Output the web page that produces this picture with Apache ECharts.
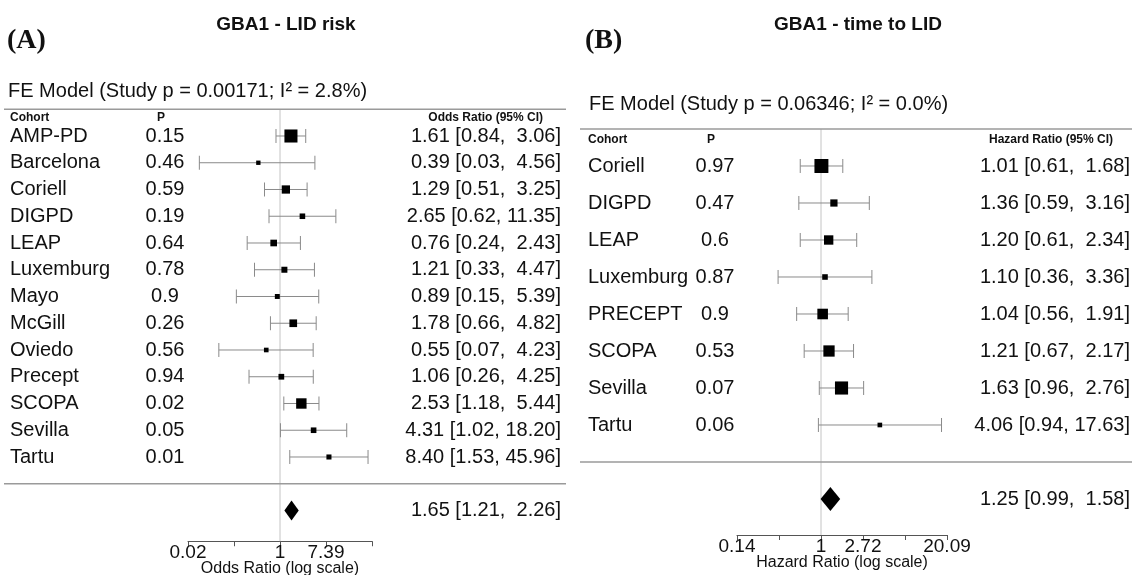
<!DOCTYPE html>
<html><head><meta charset="utf-8">
<script src="https://cdn.jsdelivr.net/npm/echarts@6/dist/echarts.min.js"></script>
<style>html,body{margin:0;padding:0;background:#fff}#c{width:1132px;height:575px}</style>
</head><body><div id="c"></div>
<script>
// ---------- Panel A data ----------
const titleA = 'GBA1 - LID risk';
const tagA = '(A)';
const modelA = 'FE Model (Study p = 0.00171; I² = 2.8%)';
const headersA = ['Cohort', 'P', 'Odds Ratio (95% CI)'];
const cohortsA = ['AMP-PD','Barcelona','Coriell','DIGPD','LEAP','Luxemburg','Mayo','McGill','Oviedo','Precept','SCOPA','Sevilla','Tartu'];
const pA = [0.15,0.46,0.59,0.19,0.64,0.78,0.9,0.26,0.56,0.94,0.02,0.05,0.01];
const orA = [1.61,0.39,1.29,2.65,0.76,1.21,0.89,1.78,0.55,1.06,2.53,4.31,8.40];
const loA = [0.84,0.03,0.51,0.62,0.24,0.33,0.15,0.66,0.07,0.26,1.18,1.02,1.53];
const hiA = [3.06,4.56,3.25,11.35,2.43,4.47,5.39,4.82,4.23,4.25,5.44,18.20,45.96];
const weightA = [23.6,1.6,11.5,4.7,7.4,5.8,3.1,10.0,2.3,5.1,16.9,4.8,3.4];
const summaryA = [1.65,1.21,2.26];
const tickLabelsA = ['0.02','','1','7.39',''];
const axisTitleA = 'Odds Ratio (log scale)';

// ---------- Panel B data ----------
const titleB = 'GBA1 - time to LID';
const tagB = '(B)';
const modelB = 'FE Model (Study p = 0.06346; I² = 0.0%)';
const headersB = ['Cohort', 'P', 'Hazard Ratio (95% CI)'];
const cohortsB = ['Coriell','DIGPD','LEAP','Luxemburg','PRECEPT','SCOPA','Sevilla','Tartu'];
const pB = [0.97,0.47,0.6,0.87,0.9,0.53,0.07,0.06];
const hrB = [1.01,1.36,1.20,1.10,1.04,1.21,1.63,4.06];
const loB = [0.61,0.59,0.61,0.36,0.56,0.67,0.96,0.94];
const hiB = [1.68,3.16,2.34,3.36,1.91,2.17,2.76,17.63];
const weightB = [21.7,7.9,12.3,4.5,14.8,16.2,20.0,2.6];
const summaryB = [1.25,0.99,1.58];
const tickLabelsB = ['0.14','','1','2.72','','20.09'];
const axisTitleB = 'Hazard Ratio (log scale)';

// ---------- layout ----------
const FONT = '"Liberation Sans", Arial, sans-serif';
const panels = [
  {title:titleA, tag:tagA, model:modelA, headers:headersA, cohorts:cohortsA, p:pA, est:orA, lo:loA, hi:hiA, w:weightA, sum:summaryA, ticks:tickLabelsA, axisTitle:axisTitleA,
   grid:{left:188, width:184, top:109.25, height:432}, xMin:-4, xMax:4, xInt:2, yMin:-2.15, yMax:14,
   nameX:10, pX:165, valX:561, hdrValX:543, lineX:[4,566], modelX:8, sq:8.7, dia:10, cap:14, titleX:286, tagX:7, nameGap:19},
  {title:titleB, tag:tagB, model:modelB, headers:headersB, cohorts:cohortsB, p:pB, est:hrB, lo:loB, hi:hiB, w:weightB, sum:summaryB, ticks:tickLabelsB, axisTitle:axisTitleB,
   grid:{left:737, width:210, top:129, height:406}, xMin:-2, xMax:3, xInt:1, yMin:-1.973, yMax:9,
   nameX:588, pX:715, valX:1130, hdrValX:1113, lineX:[580,1132], modelX:589, sq:9.3, dia:12, cap:14, titleX:858, tagX:585, nameGap:20}
];

function fmtCI(e, l, h, hw) {
  return e.toFixed(2) + ' [' + l.toFixed(2) + ', ' + h.toFixed(2).padStart(hw) + ']';
}
function txt(text, x, y, align, size, weight, color) {
  return {type:'text', style:{text, x, y, align, textAlign:align, verticalAlign:'middle', textVerticalAlign:'middle',
    fontSize:size, fontWeight:weight || 'normal', fontFamily:FONT, fill:color || '#111'}};
}

const grids = [], xAxes = [], yAxes = [], series = [], graphics = [];
panels.forEach((P, k) => {
  grids.push(Object.assign({containLabel:false, outerBoundsMode:'none'}, P.grid));
  xAxes.push({type:'value', gridIndex:k, min:P.xMin, max:P.xMax, interval:P.xInt,
    name:P.axisTitle, nameLocation:'middle', nameGap:P.nameGap, nameMoveOverlap:false,
    nameTextStyle:{fontSize:16, fontFamily:FONT, color:'#111'},
    axisLine:{show:true, onZero:false, lineStyle:{color:'#555', width:1}},
    axisTick:{show:true, length:5, lineStyle:{color:'#555'}},
    axisLabel:{fontSize:19, fontFamily:FONT, color:'#111', margin:2, showMinLabel:true, showMaxLabel:true,
      formatter:(v) => { const i = Math.round((v - P.xMin) / P.xInt); return P.ticks[i] || ''; }},
    splitLine:{show:false}});
  yAxes.push({type:'value', gridIndex:k, min:P.yMin, max:P.yMax, show:false});

  const n = P.cohorts.length;
  const wMin = Math.min(...P.w), wMax = Math.max(...P.w);
  const hw = Math.max(...P.hi.map(v => v.toFixed(2).length));
  const data = P.cohorts.map((c, i) => [Math.log(P.est[i]), Math.log(P.lo[i]), Math.log(P.hi[i]), n - i, P.w[i]]);

  // study rows
  series.push({type:'custom', xAxisIndex:k, yAxisIndex:k, data, clip:false, silent:true, animation:false,
    renderItem:(params, api) => {
      const i = params.dataIndex;
      const r = api.value(3);
      const pe = api.coord([api.value(0), r]);
      const pl = api.coord([api.value(1), r]);
      const ph = api.coord([api.value(2), r]);
      const y = pe[1], c = P.cap / 2;
      const s = P.sq * (0.5 + (api.value(4) - wMin) / (wMax - wMin));
      const ls = {stroke:'#8a8a8a', lineWidth:1};
      return {type:'group', children:[
        {type:'line', shape:{x1:pl[0], y1:y, x2:ph[0], y2:y}, style:ls},
        {type:'line', shape:{x1:pl[0], y1:y - c, x2:pl[0], y2:y + c}, style:ls},
        {type:'line', shape:{x1:ph[0], y1:y - c, x2:ph[0], y2:y + c}, style:ls},
        {type:'rect', shape:{x:pe[0] - s / 2, y:y - s / 2, width:s, height:s}, style:{fill:'#000'}},
        txt(P.cohorts[i], P.nameX, y, 'left', 20),
        txt(String(P.p[i]), P.pX, y, 'center', 20),
        txt(fmtCI(P.est[i], P.lo[i], P.hi[i], hw), P.valX, y, 'right', 20)
      ]};
    }});

  // decorations: reference line, header/separator lines, summary diamond, headers
  series.push({type:'custom', xAxisIndex:k, yAxisIndex:k, data:[[Math.log(P.sum[0]), Math.log(P.sum[1]), Math.log(P.sum[2]), -1]],
    clip:false, silent:true, animation:false, z:1,
    renderItem:(params, api) => {
      const r = api.value(3);
      const pe = api.coord([api.value(0), r]);
      const pl = api.coord([api.value(1), r]);
      const ph = api.coord([api.value(2), r]);
      const top = api.coord([0, P.yMax]);
      const bot = api.coord([0, P.yMin]);
      const sepY = api.coord([0, 0])[1];
      const hdrY = api.coord([0, n + 0.7])[1];
      const modY = api.coord([0, P.yMax + 0.65])[1];
      const y = pe[1], d = P.dia;
      const gl = {stroke:'#9a9a9a', lineWidth:1.5};
      return {type:'group', children:[
        {type:'line', shape:{x1:top[0], y1:top[1], x2:bot[0], y2:bot[1]}, style:{stroke:'#c4c4c4', lineWidth:1}},
        {type:'line', shape:{x1:P.lineX[0], y1:top[1], x2:P.lineX[1], y2:top[1]}, style:gl},
        {type:'line', shape:{x1:P.lineX[0], y1:sepY, x2:P.lineX[1], y2:sepY}, style:gl},
        {type:'polygon', shape:{points:[[pl[0], y], [pe[0], y - d], [ph[0], y], [pe[0], y + d]]}, style:{fill:'#000'}},
        txt(fmtCI(P.sum[0], P.sum[1], P.sum[2], hw), P.valX, y, 'right', 20),
        txt(P.headers[0], P.nameX, hdrY, 'left', 12, 'bold'),
        txt(P.headers[1], P.pX - 4, hdrY, 'center', 12, 'bold'),
        txt(P.headers[2], P.hdrValX, hdrY, 'right', 12, 'bold'),
        txt(P.model, P.modelX, modY, 'left', 20)
      ]};
    }});

  graphics.push({type:'text', x:P.titleX, y:25, style:{text:P.title, align:'center', textAlign:'center', verticalAlign:'middle', textVerticalAlign:'middle',
    fontSize:19, fontWeight:'bold', fontFamily:FONT, fill:'#111'}});
  graphics.push({type:'text', x:P.tagX, y:41, style:{text:P.tag, align:'left', textAlign:'left', verticalAlign:'middle', textVerticalAlign:'middle',
    fontSize:28, fontWeight:'bold', fontFamily:'"Liberation Serif", "Times New Roman", serif', fill:'#111'}});
});

const chart = echarts.init(document.getElementById('c'), null, {renderer:'canvas'});
chart.setOption({
  animation:false,
  backgroundColor:'#fff',
  grid:grids, xAxis:xAxes, yAxis:yAxes, series, graphic:graphics
});
</script></body></html>
